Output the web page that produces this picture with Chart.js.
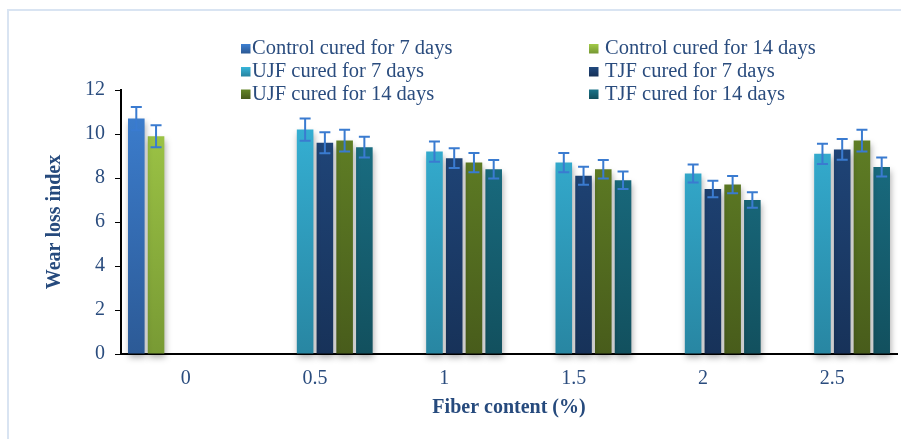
<!DOCTYPE html>
<html><head><meta charset="utf-8">
<script src="https://cdn.jsdelivr.net/npm/chart.js@4/dist/chart.umd.min.js"></script>
<style>html,body{margin:0;padding:0;background:#fff;}#wrap{width:901px;height:439px;position:relative;}canvas{display:block;}</style>
</head><body><div id="wrap"><canvas id="c" width="901" height="439"></canvas></div>
<script>
const categories = ['0', '0.5', '1', '1.5', '2', '2.5'];
const seriesNames = ['Control cured for 7 days', 'Control cured for 14 days', 'UJF cured for 7 days', 'TJF cured for 7 days', 'UJF cured for 14 days', 'TJF cured for 14 days'];
const control7 = [10.7, null, null, null, null, null];
const control14 = [9.9, null, null, null, null, null];
const ujf7 = [null, 10.2, 9.2, 8.7, 8.2, 9.1];
const tjf7 = [null, 9.6, 8.9, 8.1, 7.5, 9.3];
const ujf14 = [null, 9.7, 8.7, 8.4, 7.7, 9.7];
const tjf14 = [null, 9.4, 8.4, 7.9, 7.0, 8.5];
const control7Err = [0.53, null, null, null, null, null];
const control14Err = [0.5, null, null, null, null, null];
const ujf7Err = [null, 0.51, 0.46, 0.44, 0.41, 0.46];
const tjf7Err = [null, 0.48, 0.45, 0.41, 0.38, 0.47];
const ujf14Err = [null, 0.49, 0.44, 0.42, 0.39, 0.49];
const tjf14Err = [null, 0.47, 0.42, 0.40, 0.35, 0.43];
const yTicks = [0, 2, 4, 6, 8, 10, 12];

const seriesValues = [control7, control14, ujf7, tjf7, ujf14, tjf14];
const seriesErrors = [control7Err, control14Err, ujf7Err, tjf7Err, ujf14Err, tjf14Err];
const gradStops = [
  ['#3d80d2', '#2c5a96'],
  ['#a2ca48', '#789a34'],
  ['#37b5da', '#2886a2'],
  ['#21497f', '#173259'],
  ['#648527', '#485c1b'],
  ['#1b748a', '#12505e']
];
const legendLayout = [
  {mx: 241, tx: 252, y: 48.5},
  {mx: 589, tx: 605, y: 48.5},
  {mx: 241, tx: 252, y: 71.5},
  {mx: 589, tx: 605, y: 71.5},
  {mx: 241, tx: 252, y: 94},
  {mx: 589, tx: 605, y: 94}
];
const textColor = '#2a4c7e';
const FONT = "'Liberation Serif', 'Times New Roman', serif";

function gradFor(i) {
  return function(ctx) {
    const ca = ctx.chart.chartArea;
    if (!ca) return gradStops[i][0];
    const g = ctx.chart.ctx.createLinearGradient(0, ca.top, 0, ca.bottom);
    g.addColorStop(0, gradStops[i][0]);
    g.addColorStop(1, gradStops[i][1]);
    return g;
  };
}

const datasets = seriesValues.map((vals, i) => ({
  label: seriesNames[i],
  data: vals,
  backgroundColor: gradFor(i),
  borderWidth: 0,
  categoryPercentage: 0.916,
  barPercentage: 0.84,
  clip: false
}));

const decor = {
  id: 'decor',
  beforeDraw(chart) {
    const c = chart.ctx;
    c.save();
    c.strokeStyle = '#d9e4f2';
    c.lineWidth = 2;
    c.strokeRect(8, 10, 1200, 1200);
    c.restore();
  },
  beforeDatasetsDraw(chart) {
    const c = chart.ctx;
    c.save();
    c.shadowColor = 'rgba(0,0,0,0.32)';
    c.shadowBlur = 6;
    c.shadowOffsetX = 1;
    c.shadowOffsetY = 4;
  },
  afterDatasetsDraw(chart) {
    const c = chart.ctx;
    c.restore();
    const ys = chart.scales.y;
    c.save();
    c.strokeStyle = '#3a7bd0';
    c.lineWidth = 2;
    seriesValues.forEach((vals, i) => {
      const meta = chart.getDatasetMeta(i);
      vals.forEach((v, j) => {
        const e = seriesErrors[i][j];
        if (v === null || e === null) return;
        const x = meta.data[j].x;
        const yt = ys.getPixelForValue(v + e);
        const yb = ys.getPixelForValue(v - e);
        c.beginPath();
        c.moveTo(x, yt); c.lineTo(x, yb);
        c.moveTo(x - 5.5, yt); c.lineTo(x + 5.5, yt);
        c.moveTo(x - 5.5, yb); c.lineTo(x + 5.5, yb);
        c.stroke();
      });
    });
    c.restore();
  },
  afterDraw(chart) {
    const c = chart.ctx;
    c.save();
    c.font = '20.5px ' + FONT;
    c.textBaseline = 'middle';
    c.textAlign = 'left';
    seriesNames.forEach((name, i) => {
      const L = legendLayout[i];
      const g = c.createLinearGradient(0, L.y - 4.5, 0, L.y + 4.5);
      g.addColorStop(0, gradStops[i][0]);
      g.addColorStop(1, gradStops[i][1]);
      c.fillStyle = g;
      c.fillRect(L.mx, L.y - 4.5, 9.5, 9.5);
      c.fillStyle = textColor;
      c.fillText(name, L.tx, L.y + 0.5);
    });
    c.restore();
  }
};

new Chart(document.getElementById('c'), {
  type: 'bar',
  data: {labels: categories, datasets: datasets},
  options: {
    responsive: false,
    animation: false,
    devicePixelRatio: 1,
    layout: {padding: {left: 0, right: 4, top: 90, bottom: 0}},
    plugins: {legend: {display: false}, tooltip: {enabled: false}, title: {display: false}},
    scales: {
      x: {
        ticks: {color: textColor, font: {family: FONT, size: 20}, padding: 13},
        grid: {display: false, drawTicks: false},
        border: {display: true, color: '#000', width: 2},
        title: {display: true, text: 'Fiber content (%)', color: '#264a7d', font: {family: FONT, size: 20, weight: 'bold'}, padding: {top: 0, bottom: 19}},
        afterFit(s) { s.height = 85; }
      },
      y: {
        min: 0, max: 12,
        afterBuildTicks(s) { s.ticks = yTicks.map(v => ({value: v})); },
        ticks: {color: textColor, font: {family: FONT, size: 20}, padding: 10},
        grid: {drawOnChartArea: false, drawTicks: true, tickLength: 6, color: '#000', lineWidth: 1},
        border: {display: true, color: '#000', width: 2},
        title: {display: true, text: 'Wear loss index', color: '#264a7d', font: {family: FONT, size: 20, weight: 'bold'}, padding: {top: 43, bottom: 0}},
        afterFit(s) { s.width = 121; }
      }
    }
  },
  plugins: [decor]
});
</script>
</body></html>
